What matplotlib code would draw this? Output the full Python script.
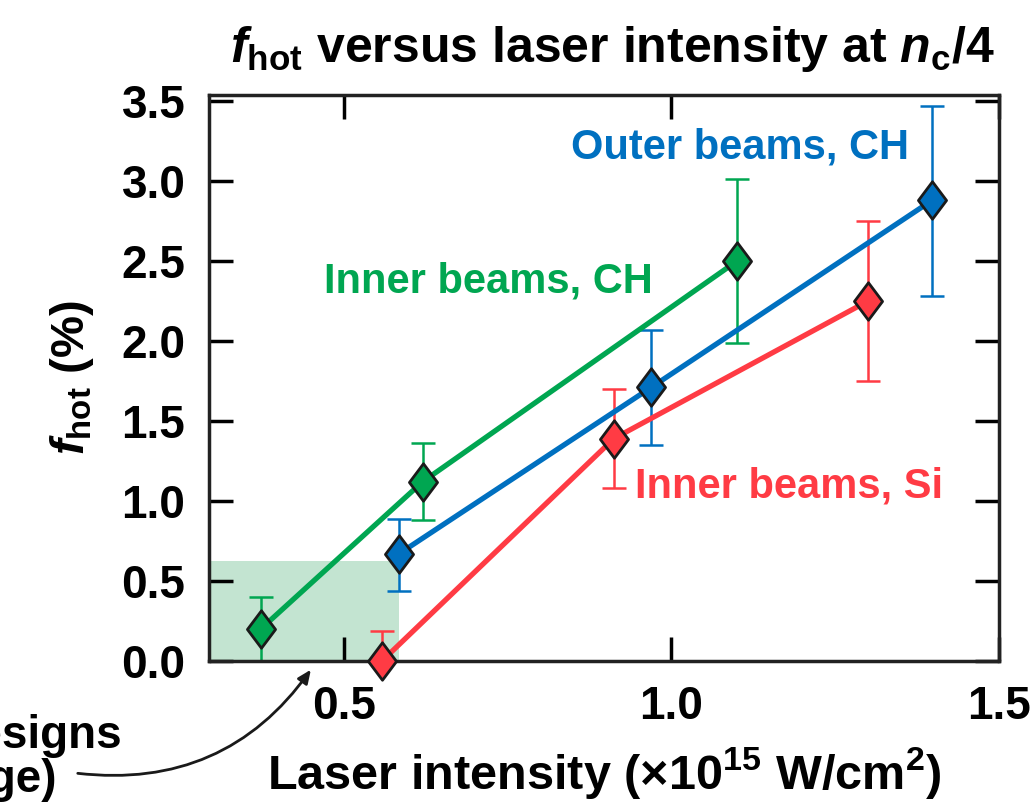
import matplotlib.pyplot as plt
from matplotlib.path import Path

plt.rcParams['font.family'] = ['Liberation Sans', 'DejaVu Sans']
plt.rcParams['font.weight'] = 'bold'
plt.rcParams['axes.titleweight'] = 'bold'
plt.rcParams['axes.labelweight'] = 'bold'
plt.rcParams['mathtext.fontset'] = 'custom'
plt.rcParams['mathtext.rm'] = 'Liberation Sans:bold'
plt.rcParams['mathtext.bf'] = 'Liberation Sans:bold'
plt.rcParams['mathtext.it'] = 'Liberation Sans:italic:bold'

# data
inner_ch_x = [0.373, 0.62, 1.10]
inner_ch_y = [0.20, 1.12, 2.50]
inner_ch_lo = [0.20, 0.24, 0.51]
inner_ch_hi = [0.20, 0.24, 0.51]

outer_ch_x = [0.584, 0.969, 1.398]
outer_ch_y = [0.67, 1.71, 2.88]
outer_ch_lo = [0.23, 0.36, 0.60]
outer_ch_hi = [0.22, 0.36, 0.59]

inner_si_x = [0.558, 0.912, 1.30]
inner_si_y = [0.0, 1.39, 2.25]
inner_si_lo = [0.0, 0.31, 0.50]
inner_si_hi = [0.19, 0.31, 0.50]

shade_x = [0.294, 0.584]
shade_top = 0.625

green = '#00a651'
blue = '#0070c0'
red = '#ff3b44'
shade_col = '#c3e4d1'

# slightly tall diamond marker
diamond = Path([(0, 1), (0.75, 0), (0, -1), (-0.75, 0), (0, 1)],
               [Path.MOVETO, Path.LINETO, Path.LINETO, Path.LINETO, Path.CLOSEPOLY])

fig = plt.figure(figsize=(10.34, 8.08), dpi=100)
ax = fig.add_axes([0.2021, 0.1819, 0.7641, 0.7005])

ax.fill_between(shade_x, 0, shade_top, color=shade_col, lw=0, zorder=0)

for xs, ys, lo, hi, c in [(inner_ch_x, inner_ch_y, inner_ch_lo, inner_ch_hi, green),
                          (outer_ch_x, outer_ch_y, outer_ch_lo, outer_ch_hi, blue),
                          (inner_si_x, inner_si_y, inner_si_lo, inner_si_hi, red)]:
    ax.errorbar(xs, ys, yerr=[lo, hi], fmt='none', ecolor=c, elinewidth=1.8,
                capsize=8.5, capthick=1.8, zorder=2)
    ax.plot(xs, ys, color=c, lw=3.8, zorder=3)
    ax.plot(xs, ys, linestyle='none', marker=diamond, markersize=27,
            markerfacecolor=c, markeredgecolor='#1a1a1a', markeredgewidth=2,
            zorder=4, clip_on=False)

ax.text(1.105, 3.21, 'Outer beams, CH', color=blue, fontsize=30, ha='center', va='center')
ax.text(0.72, 2.37, 'Inner beams, CH', color=green, fontsize=30, ha='center', va='center')
ax.text(1.18, 1.09, 'Inner beams, Si', color=red, fontsize=30, ha='center', va='center')

ax.set_xlim(0.294, 1.5)
ax.set_ylim(0, 3.5375)
ax.set_xticks([0.5, 1.0, 1.5])
ax.set_yticks([0.0, 0.5, 1.0, 1.5, 2.0, 2.5, 3.0, 3.5])
ax.set_xticklabels(['0.5', '1.0', '1.5'])
ax.set_yticklabels(['0.0', '0.5', '1.0', '1.5', '2.0', '2.5', '3.0', '3.5'])
ax.tick_params(direction='in', length=17, width=2.5, labelsize=33,
               top=True, right=True, pad=17)
for s in ax.spines.values():
    s.set_linewidth(2.5)
    s.set_color('#222222')

ax.set_title(r'$\mathit{f}_{\mathbf{hot}}$ versus laser intensity at $\mathit{n}_{\mathbf{c}}$/4',
             fontsize=36, pad=24, x=0.51)
ax.set_xlabel(r'Laser intensity ($\times$10$^{15}$ W/cm$^{2}$)', fontsize=35, labelpad=12)
ax.set_ylabel(r'$\mathit{f}_{\mathbf{hot}}$ (%)', fontsize=34, labelpad=18)

fig.text(122 / 1034, 1 - 748 / 808, 'Current designs', fontsize=33, ha='right', va='baseline')
fig.text(57 / 1034, 1 - 792 / 808, '(low range)', fontsize=33, ha='right', va='baseline')
ax.annotate('', xy=(0.452, -0.04), xycoords='data',
            xytext=(75, 808 - 773), textcoords='figure pixels',
            arrowprops=dict(arrowstyle='-|>,head_length=0.8,head_width=0.35',
                            connectionstyle='arc3,rad=0.3', color='#1a1a1a', lw=2),
            annotation_clip=False)

fig.savefig('out.png', dpi=100)
